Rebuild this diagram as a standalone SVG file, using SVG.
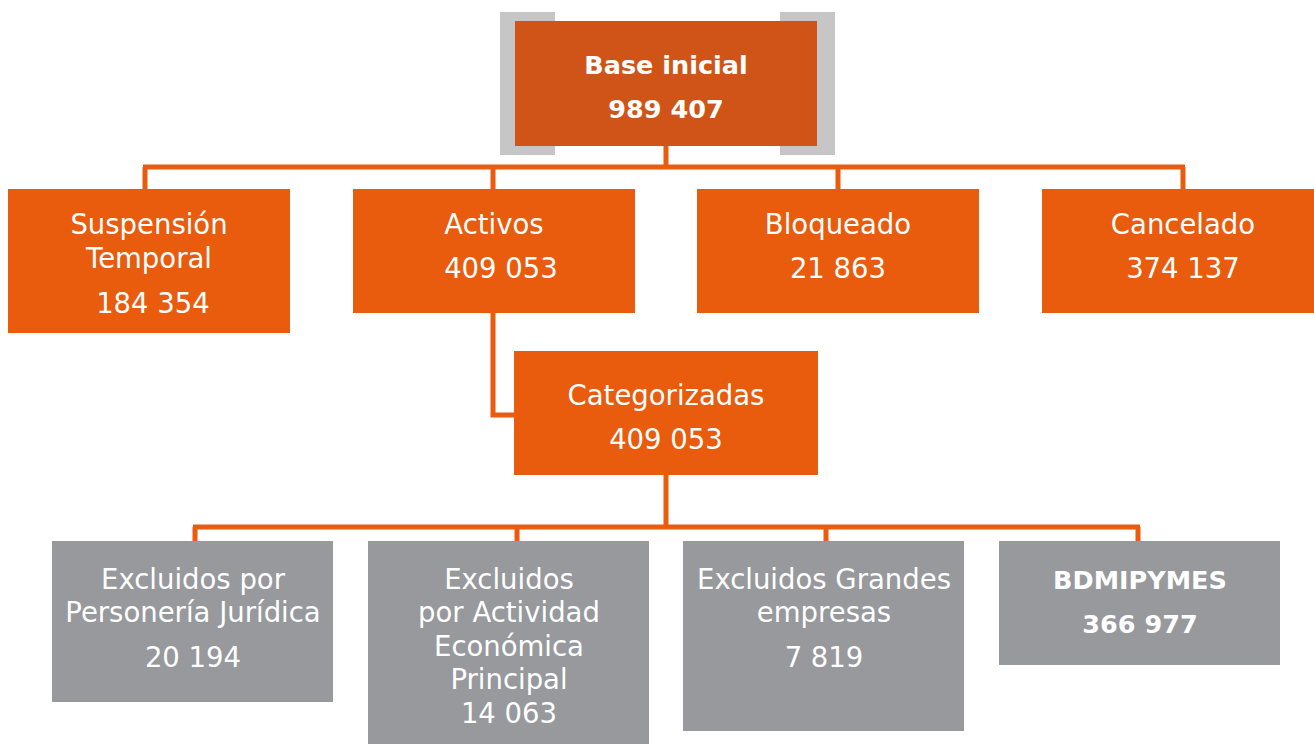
<svg xmlns="http://www.w3.org/2000/svg" width="1314" height="744" viewBox="0 0 1314 744">
<style>
.or{fill:#E95B0D}
.gr{fill:#97999C}
.t{font-family:"DejaVu Sans","Open Sans",sans-serif;font-size:27.5px;fill:#fff;text-anchor:middle}
.b{font-weight:bold;font-size:25.5px}
.c{stroke:#E95B0D;stroke-width:5;fill:none}
</style>
<rect width="1314" height="744" fill="#fff"/>
<g id="connectors">
<path class="c" d="M666 146V167M143 167H1185M145 167V189M493 167V189M838 167V189M1183 167V189"/>
<path class="c" d="M493 313V415H514"/>
<path class="c" d="M666 475V527M193 527H1140M195 527V541M517 527V541M826 527V541M1138 527V541"/>
</g>
<g id="base">
<rect x="500" y="12" width="55" height="143" fill="#C6C6C6"/>
<rect x="780" y="12" width="55" height="143" fill="#C6C6C6"/>
<rect x="515" y="21" width="302" height="125" fill="#D05417"/>
<text class="t b" x="666" y="74">Base inicial</text>
<text class="t b" x="666" y="118">989 407</text>
</g>
<g id="suspension">
<rect class="or" x="8" y="189" width="282" height="144"/>
<text class="t" x="149" y="234">Suspensión</text>
<text class="t" x="149" y="268">Temporal</text>
<text class="t" x="153" y="313">184 354</text>
</g>
<g id="activos">
<rect class="or" x="353" y="189" width="282" height="124"/>
<text class="t" x="494" y="234">Activos</text>
<text class="t" x="501" y="278">409 053</text>
</g>
<g id="bloqueado">
<rect class="or" x="697" y="189" width="282" height="124"/>
<text class="t" x="838" y="234">Bloqueado</text>
<text class="t" x="838" y="278">21 863</text>
</g>
<g id="cancelado">
<rect class="or" x="1042" y="189" width="272" height="124"/>
<text class="t" x="1183" y="234">Cancelado</text>
<text class="t" x="1183" y="278">374 137</text>
</g>
<g id="categorizadas">
<rect class="or" x="514" y="351" width="304" height="124"/>
<text class="t" x="666" y="405">Categorizadas</text>
<text class="t" x="666" y="449">409 053</text>
</g>
<g id="juridica">
<rect class="gr" x="52" y="541" width="281" height="161"/>
<text class="t" x="193" y="589">Excluidos por</text>
<text class="t" x="193" y="622">Personería Jurídica</text>
<text class="t" x="193" y="667">20 194</text>
</g>
<g id="actividad">
<rect class="gr" x="368" y="541" width="281" height="203"/>
<text class="t" x="509" y="589">Excluidos</text>
<text class="t" x="509" y="622">por Actividad</text>
<text class="t" x="509" y="656">Económica</text>
<text class="t" x="509" y="689">Principal</text>
<text class="t" x="509" y="723">14 063</text>
</g>
<g id="grandes">
<rect class="gr" x="683" y="541" width="281" height="190"/>
<text class="t" x="824" y="589">Excluidos Grandes</text>
<text class="t" x="824" y="622">empresas</text>
<text class="t" x="824" y="667">7 819</text>
</g>
<g id="bdmipymes">
<rect class="gr" x="999" y="541" width="281" height="124"/>
<text class="t b" x="1140" y="589">BDMIPYMES</text>
<text class="t b" x="1140" y="633">366 977</text>
</g>
</svg>
